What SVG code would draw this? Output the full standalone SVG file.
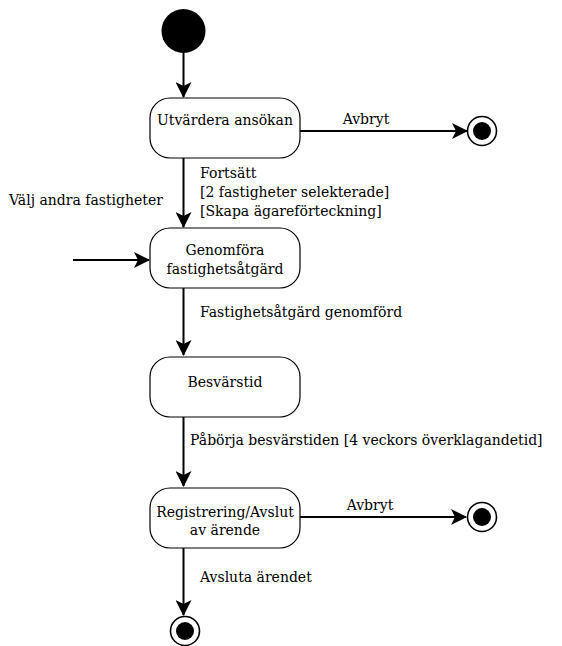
<svg xmlns="http://www.w3.org/2000/svg" width="562" height="646" viewBox="0 0 562 646">
<style>
text{font-family:"DejaVu Serif","Liberation Serif",serif;font-size:14px;fill:#000}
.c{text-anchor:middle}
.box{fill:#fff;stroke:#000;stroke-width:1.2}
.edge{stroke:#000;stroke-width:2;fill:none;marker-end:url(#ah)}
.ring{fill:#fff;stroke:#000;stroke-width:1.6}
</style>
<defs>
<marker id="ah" viewBox="0 0 16 16" refX="15" refY="8" markerWidth="16" markerHeight="16" markerUnits="userSpaceOnUse" orient="auto">
<path d="M0,0 L16,8 L0,16 L4,8 Z" fill="#000"/>
</marker>
</defs>
<rect width="562" height="646" fill="#fff"/>
<g id="connectors">
<path class="edge" d="M183.5,53 V97"/>
<path class="edge" d="M300,131 H467"/>
<path class="edge" d="M183.5,158 V227"/>
<path class="edge" d="M73,260 H149"/>
<path class="edge" d="M183.5,288 V355"/>
<path class="edge" d="M183.5,417 V486"/>
<path class="edge" d="M300,517 H466"/>
<path class="edge" d="M183.5,548 V615"/>
<text x="366" y="124" class="c">Avbryt</text>
<text x="200" y="178">Fortsätt</text>
<text x="200" y="197">[2 fastigheter selekterade]</text>
<text x="200" y="216">[Skapa ägareförteckning]</text>
<text x="9" y="205">Välj andra fastigheter</text>
<text x="200" y="317">Fastighetsåtgärd genomförd</text>
<text x="190" y="445">Påbörja besvärstiden [4 veckors överklagandetid]</text>
<text x="370" y="510" class="c">Avbryt</text>
<text x="200" y="582">Avsluta ärendet</text>
</g>
<g id="start">
<circle cx="183.5" cy="31" r="22" fill="#000"/>
</g>
<g id="utvardera">
<rect class="box" x="150" y="98" width="150" height="60" rx="20"/>
<text x="225" y="125" class="c">Utvärdera ansökan</text>
</g>
<g id="end1">
<circle class="ring" cx="482" cy="131" r="14.5"/>
<circle cx="482" cy="131" r="9" fill="#000"/>
</g>
<g id="genomfora">
<rect class="box" x="150" y="228" width="150" height="60" rx="20"/>
<text x="225" y="255" class="c">Genomföra</text>
<text x="225" y="274" class="c">fastighetsåtgärd</text>
</g>
<g id="besvarstid">
<rect class="box" x="150" y="357" width="150" height="60" rx="20"/>
<text x="225" y="387" class="c">Besvärstid</text>
</g>
<g id="registrering">
<rect class="box" x="150" y="488" width="150" height="60" rx="20"/>
<text x="225" y="517" class="c">Registrering/Avslut</text>
<text x="225" y="535" class="c">av ärende</text>
</g>
<g id="end2">
<circle class="ring" cx="482" cy="517" r="14.5"/>
<circle cx="482" cy="517" r="9" fill="#000"/>
</g>
<g id="end3">
<circle class="ring" cx="185" cy="631" r="14.5"/>
<circle cx="185" cy="631" r="9" fill="#000"/>
</g>
</svg>
